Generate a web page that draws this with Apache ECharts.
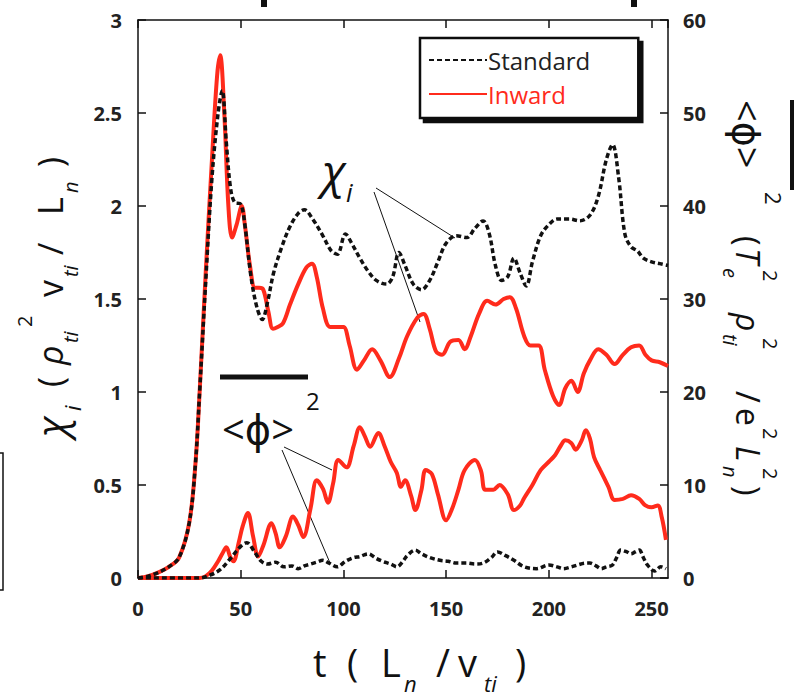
<!DOCTYPE html>
<html>
<head>
<meta charset="utf-8">
<script src="https://cdn.jsdelivr.net/npm/echarts@6/dist/echarts.min.js"></script>
<style>
  html, body { margin: 0; padding: 0; background: #fff; }
  #chart { width: 799px; height: 700px; }
</style>
</head>
<body>
<div id="chart"></div>
<script>
// chi_i, Standard (left axis)
const stdChiT = [0, 5, 10, 15, 20, 25, 28, 30, 33, 36, 39, 41, 43, 45, 47, 50, 52, 55, 58, 60.5, 63, 66, 70, 74, 78, 81, 85, 90, 94, 97, 101, 104, 108, 112, 116, 121, 124, 127, 130, 134, 138, 142, 146, 150, 155, 160, 164, 168, 171, 174, 177, 180, 183, 186, 189, 192, 196, 200, 204, 210, 215, 220, 224, 228, 231, 234, 237, 240, 243, 246, 250, 254, 258];
const stdChi = [0, 0.01, 0.03, 0.06, 0.11, 0.3, 0.62, 1.0, 1.6, 2.15, 2.5, 2.62, 2.34, 2.1, 2.02, 2.01, 1.9, 1.62, 1.45, 1.39, 1.48, 1.64, 1.78, 1.89, 1.96, 1.98, 1.93, 1.84, 1.76, 1.74, 1.85, 1.8, 1.72, 1.65, 1.6, 1.58, 1.62, 1.75, 1.68, 1.58, 1.55, 1.6, 1.7, 1.8, 1.84, 1.83, 1.88, 1.92, 1.85, 1.68, 1.6, 1.62, 1.72, 1.64, 1.57, 1.7, 1.84, 1.9, 1.93, 1.93, 1.92, 1.95, 2.05, 2.25, 2.33, 2.15, 1.85, 1.78, 1.76, 1.72, 1.7, 1.69, 1.68];

// chi_i, Inward (left axis)
const inwChiT = [0, 5, 10, 15, 20, 25, 28, 30, 33, 36, 38.5, 40, 42, 44, 45.8, 48, 50.5, 52, 54.5, 57, 59, 61, 63.5, 65.7, 68, 70.6, 74, 78, 82, 84.7, 87, 90, 93.5, 97, 100, 103, 106.6, 110, 114, 118, 122.6, 127, 131, 136, 139, 142, 145, 148, 152, 156, 159, 162, 166, 170, 174, 178, 181, 184, 188, 191, 195, 198, 202, 205, 208, 211, 214, 217, 220, 224, 228, 232, 236, 240, 244, 247, 250, 254, 258];
const inwChi = [0, 0.01, 0.03, 0.06, 0.11, 0.3, 0.62, 1.0, 1.65, 2.25, 2.7, 2.81, 2.5, 2.0, 1.83, 1.9, 2.0, 1.9, 1.68, 1.56, 1.56, 1.55, 1.43, 1.34, 1.35, 1.37, 1.47, 1.58, 1.67, 1.69, 1.62, 1.45, 1.35, 1.35, 1.35, 1.25, 1.12, 1.17, 1.23, 1.17, 1.08, 1.18, 1.3, 1.4, 1.42, 1.34, 1.22, 1.2, 1.27, 1.28, 1.23, 1.3, 1.42, 1.49, 1.47, 1.5, 1.51, 1.45, 1.3, 1.25, 1.25, 1.12, 0.98, 0.93, 1.02, 1.06, 1.0, 1.1, 1.17, 1.23, 1.2, 1.15, 1.2, 1.24, 1.25, 1.2, 1.17, 1.16, 1.14];

// <phi>^2, Standard (right axis)
const stdPhiT = [0, 30, 35, 40, 45, 50, 53, 57, 60, 63, 67, 71, 75, 78, 81, 84, 87, 90, 93, 97, 101, 105, 108, 112, 116, 119, 123, 126, 129, 131, 135, 138, 142, 147, 151, 155, 160, 164, 168, 172, 175, 179, 183, 188, 194, 200, 204, 207, 211, 214, 218, 220, 223, 225.5, 228, 231, 233, 235, 238, 240, 242, 244, 246, 248, 251.5, 254.5, 257];
const stdPhi = [0, 0, 0.3, 0.9, 2.1, 3.4, 3.8, 2.7, 1.8, 1.5, 1.7, 1.2, 1.3, 1.0, 1.3, 1.5, 1.7, 1.9, 1.6, 1.2, 1.8, 2.2, 2.3, 2.6, 2.1, 1.8, 1.5, 1.2, 1.8, 2.4, 3.0, 2.6, 2.2, 1.9, 1.8, 1.6, 1.6, 1.5, 1.6, 2.2, 2.8, 2.4, 1.9, 1.2, 1.0, 1.4, 1.2, 1.0, 1.2, 1.4, 1.6, 1.6, 1.3, 1.0, 1.2, 1.4, 2.2, 3.0, 2.8, 2.6, 2.8, 3.0, 2.2, 1.4, 0.75, 1.2, 1.0];

// <phi>^2, Inward (right axis)
const inwPhiT = [0, 30, 33, 36, 39, 41, 43, 45, 46.5, 49, 51, 53.5, 56, 58.5, 61, 65, 67, 69, 72, 75.5, 78, 80.5, 84, 87, 90, 92.5, 95, 97.5, 101.5, 105, 108, 110.5, 113, 117, 120, 123, 126, 128, 130, 133, 135, 138, 140, 143, 146, 150, 153, 156, 159, 164, 167, 169, 173, 176, 180, 183, 186, 188, 192, 196, 200, 203, 206, 208, 211, 213, 216, 218, 220, 222, 225, 229, 232, 236, 240, 244, 247, 250, 253, 255, 257];
const inwPhi = [0, 0, 0.2, 0.8, 1.8, 2.6, 3.3, 2.2, 1.8, 3.8, 5.6, 7.0, 4.5, 2.3, 3.5, 5.9, 4.8, 3.3, 4.5, 6.6, 5.7, 4.4, 7.5, 10.5, 9.6, 8.1, 10.2, 12.7, 11.9, 14.2, 16.2, 15.2, 14.1, 15.6, 14.2, 12.5, 11.3, 9.8, 10.5, 8.8, 7.3, 9.5, 11.6, 11.2, 9.0, 6.2, 7.5, 9.5, 11.6, 12.7, 11.5, 9.5, 9.5, 10.0, 9.0, 7.3, 7.8, 8.6, 10.0, 11.6, 12.5, 13.2, 14.3, 14.8, 14.5, 13.8, 14.8, 15.9, 15.0, 13.0, 11.6, 9.8, 8.4, 8.5, 8.9, 8.5, 7.8, 7.6, 7.8, 6.5, 4.1];

const xTicks = { min: 0, max: 258, step: 50 };
const chiTicks = { min: 0, max: 3, step: 0.5 };
const phiTicks = { min: 0, max: 60, step: 10 };

const FONT = "'Open Sans', 'DejaVu Sans', sans-serif";
const INK = '#111';
const RED = '#ff2b1c';

function pairs(ts, vs) {
    return ts.map(function (t, i) { return [t, vs[i]]; });
}

// pieces: [text, localX, localY, size, italic]
function mathText(x, y, rot, pieces, extra) {
    const kids = pieces.map(function (p) {
        return {
            type: 'text', x: p[1], y: p[2],
            style: {
                text: p[0], fontSize: p[3], fontStyle: p[4] ? 'italic' : 'normal',
                fontFamily: FONT, fill: INK, align: 'left', verticalAlign: 'middle'
            }
        };
    });
    return { type: 'group', x: x, y: y, rotation: rot, silent: true, children: kids.concat(extra || []) };
}

function seg(x1, y1, x2, y2, w) {
    return { type: 'line', silent: true, shape: { x1: x1, y1: y1, x2: x2, y2: y2 }, style: { stroke: INK, lineWidth: w || 1 } };
}

const chart = echarts.init(document.getElementById('chart'), null, { renderer: 'svg' });

const axisBase = {
    type: 'value',
    axisLine: { show: true, onZero: false, lineStyle: { color: INK, width: 1.5 } },
    axisTick: { show: true, inside: true, length: 8, lineStyle: { color: INK, width: 1.5 } },
    splitLine: { show: false },
    axisLabel: { fontSize: 20, fontWeight: 'bold', color: '#222', fontFamily: FONT }
};

const option = {
    backgroundColor: '#fff',
    animation: false,
    grid: { left: 138, right: 131, top: 20, bottom: 122, containLabel: false },
    legend: {
        orient: 'vertical',
        left: 420, top: 38,
        padding: [8, 48, 10, 8],
        itemGap: 6,
        itemWidth: 58, itemHeight: 14,
        backgroundColor: '#fff',
        borderColor: INK, borderWidth: 2.5,
        shadowColor: INK, shadowBlur: 0, shadowOffsetX: 4, shadowOffsetY: 4,
        itemStyle: { opacity: 0 },
        textStyle: { fontSize: 24, fontFamily: FONT, lineHeight: 28, padding: [0, 0, 0, -4] },
        data: [
            { name: 'Standard', textStyle: { color: '#222' } },
            { name: 'Inward', textStyle: { color: RED } }
        ]
    },
    xAxis: [
        Object.assign({}, axisBase, {
            position: 'bottom', min: xTicks.min, max: xTicks.max, interval: xTicks.step,
            axisLabel: Object.assign({}, axisBase.axisLabel, { margin: 20 })
        }),
        Object.assign({}, axisBase, {
            position: 'top', min: xTicks.min, max: xTicks.max, interval: xTicks.step,
            axisLabel: { show: false }
        })
    ],
    yAxis: [
        Object.assign({}, axisBase, {
            position: 'left', min: chiTicks.min, max: chiTicks.max, interval: chiTicks.step,
            axisLabel: Object.assign({}, axisBase.axisLabel, { margin: 16 })
        }),
        Object.assign({}, axisBase, {
            position: 'right', min: phiTicks.min, max: phiTicks.max, interval: phiTicks.step,
            axisLabel: Object.assign({}, axisBase.axisLabel, { margin: 15 })
        })
    ],
    series: [
        {
            name: 'Inward', type: 'line', yAxisIndex: 0, symbol: 'none', smooth: 0.35,
            data: pairs(inwChiT, inwChi),
            lineStyle: { color: RED, width: 4 }, itemStyle: { color: RED }, z: 2
        },
        {
            name: 'Inward', type: 'line', yAxisIndex: 1, symbol: 'none', smooth: 0.35,
            data: pairs(inwPhiT, inwPhi),
            lineStyle: { color: RED, width: 4 }, itemStyle: { color: RED }, z: 2
        },
        {
            name: 'Standard', type: 'line', yAxisIndex: 0, symbol: 'none', smooth: 0.35,
            data: pairs(stdChiT, stdChi),
            lineStyle: { color: INK, width: 3.5, type: [5, 3] }, itemStyle: { color: INK }, z: 3
        },
        {
            name: 'Standard', type: 'line', yAxisIndex: 1, symbol: 'none', smooth: 0.35,
            data: pairs(stdPhiT, stdPhi),
            lineStyle: { color: INK, width: 3.5, type: [5, 3] }, itemStyle: { color: INK }, z: 3
        }
    ],
    graphic: [
        // x axis name: t ( L_n / v_ti )
        mathText(0, 0, 0, [
            ['t', 313, 662, 38], ['(', 347, 662, 38], ['L', 381, 662, 38], ['n', 404, 683, 22, true],
            ['/', 436, 662, 38], ['v', 458, 662, 38], ['ti', 484, 683, 22, true], [')', 515, 662, 38]
        ]),
        // left axis name: chi_i ( rho_ti^2 v_ti / L_n )
        mathText(50, 437, Math.PI / 2, [
            ['χ', 0, 0, 40, true], ['i', 26, 22, 22, true], ['(', 50, 0, 34], ['ρ', 72, 0, 34, true],
            ['ti', 94, 20, 20, true], ['2', 110, -26, 20], ['v', 140, 0, 34], ['ti', 160, 20, 20, true],
            ['/', 182, 0, 34], ['L', 222, 0, 34], ['n', 244, 20, 20, true], [')', 270, 0, 34]
        ]),
        // right axis name: <phi>^2 ( T_e^2 rho_ti^2 / e^2 L_n^2 )
        mathText(748, 100, -Math.PI / 2, [
            ['<ϕ>', 0, 0, 38], ['2', 92, -26, 22], ['(', 136, 0, 32], ['T', 148, 0, 32, true],
            ['e', 168, 18, 20, true], ['2', 170, -22, 20], ['ρ', 213, 0, 32, true], ['ti', 234, 18, 20, true],
            ['2', 238, -22, 20], ['/', 291, 0, 32], ['e', 308, 0, 32], ['2', 328, -22, 20],
            ['L', 346, 0, 32, true], ['n', 366, 18, 20, true], ['2', 368, -22, 20], [')', 386, 0, 32]
        ], [seg(0, -44, 90, -44, 4)]),
        // in-plot labels
        mathText(0, 0, 0, [['χ', 322, 170, 46, true], ['i', 346, 192, 26, true]]),
        mathText(0, 0, 0, [['<ϕ>', 222, 428, 40], ['2', 306, 400, 24]], [seg(220, 377, 308, 377, 5)]),
        seg(376, 188, 455, 238), seg(374, 192, 420, 322),
        seg(284, 447, 332, 470), seg(282, 450, 330, 563),
        // bits of neighbouring page content at the edges
        { type: 'rect', silent: true, shape: { x: -10, y: 453, width: 13, height: 137 }, style: { fill: 'none', stroke: INK, lineWidth: 1.5 } },
        { type: 'rect', silent: true, shape: { x: 261, y: 0, width: 6, height: 7 }, style: { fill: INK } },
        { type: 'rect', silent: true, shape: { x: 631, y: 0, width: 6, height: 7 }, style: { fill: INK } }
    ]
};

chart.setOption(option);
</script>
</body>
</html>
